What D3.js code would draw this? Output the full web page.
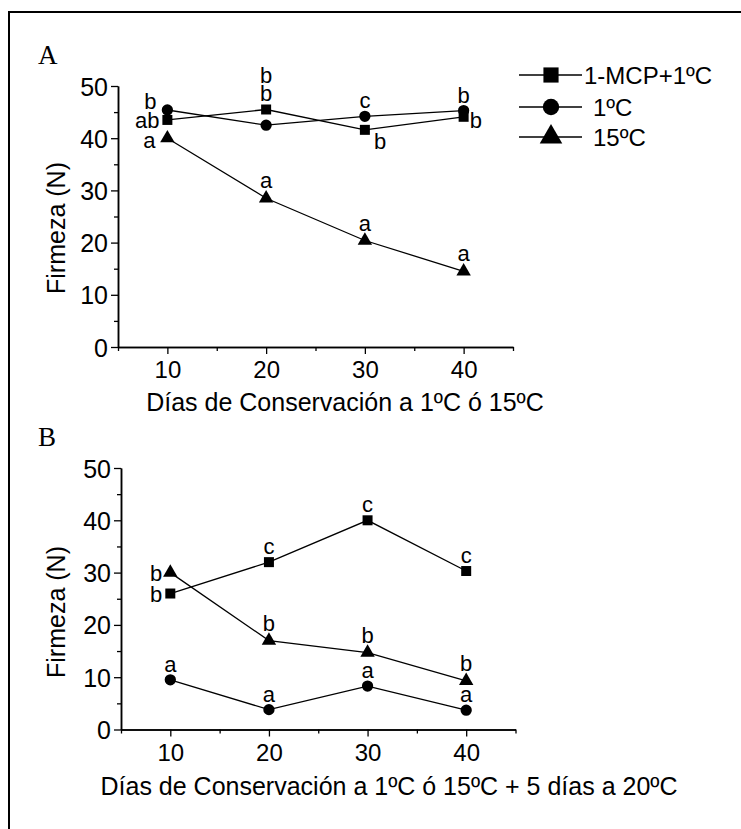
<!DOCTYPE html>
<html>
<head>
<meta charset="utf-8">
<script src="https://cdn.jsdelivr.net/npm/d3@7"></script>
<style>
  html, body { margin: 0; padding: 0; background: #fff; }
  svg { display: block; }
  text { fill: #000; }
</style>
</head>
<body>
<svg id="chart" width="741" height="829"></svg>
<script>
// ---------- DATA ----------
const days = [10, 20, 30, 40];
const seriesNames = ["1-MCP+1ºC", "1ºC", "15ºC"];
const symbolsBySeries = ["square", "circle", "triangle"];

// Panel A: Firmeza (N) during storage
const A_mcp = [43.5, 45.5, 41.6, 44.1];
const A_1c = [45.4, 42.5, 44.2, 45.3];
const A_15c = [40.0, 28.5, 20.4, 14.5];
// letters (per series, per day) and their placement
const A_letters_mcp = ["ab", "b", "b", "b"];
const A_pos_mcp = ["left", "above2", "belowright", "right"];
const A_letters_1c = ["b", "b", "c", "b"];
const A_pos_1c = ["leftup", "none", "above", "above"];
const A_letters_15c = ["a", "a", "a", "a"];
const A_pos_15c = ["leftdown", "above", "above", "above"];

// Panel B: after 5 days at 20ºC
const B_mcp = [26.0, 32.0, 40.0, 30.3];
const B_1c = [9.5, 3.8, 8.3, 3.7];
const B_15c = [30.0, 17.0, 14.7, 9.3];
const B_letters_mcp = ["b", "c", "c", "c"];
const B_pos_mcp = ["left", "above", "above", "above"];
const B_letters_1c = ["a", "a", "a", "a"];
const B_pos_1c = ["above", "above", "above", "above"];
const B_letters_15c = ["b", "b", "b", "b"];
const B_pos_15c = ["left", "above", "above", "above"];

const yTicks = [0, 10, 20, 30, 40, 50];
const yMinor = [5, 15, 25, 35, 45];
const xTicks = [10, 20, 30, 40];
const xMinor = [5, 15, 25, 35, 45];

const titleA = "Días de Conservación a 1ºC ó 15ºC";
const titleB = "Días de Conservación a 1ºC ó 15ºC + 5 días a 20ºC";
const yTitle = "Firmeza (N)";

// ---------- DRAW ----------
const SANS = "'Liberation Sans', Arial, sans-serif";
const SERIF = "'Liberation Serif', 'Times New Roman', serif";
const svg = d3.select("#chart");

// outer frame (only top & left visible in the crop)
svg.append("rect").attr("x", 9).attr("y", 12).attr("width", 900).attr("height", 900)
  .attr("fill", "none").attr("stroke", "#000").attr("stroke-width", 2);

const symType = { square: d3.symbolSquare, circle: d3.symbolCircle, triangle: d3.symbolTriangle };
const symSize = { square: 100, circle: 100, triangle: 90 };

function txt(g) {
  return g.append("text").style("font-family", SANS).attr("fill", "#000");
}

function drawPanel(cfg) {
  const x = d3.scaleLinear().domain([5, 45]).range(cfg.xr);
  const y = d3.scaleLinear().domain([0, 50]).range(cfg.yr);
  const g = svg.append("g");

  // axes
  const xAxis = g.append("g").attr("transform", `translate(0,${cfg.yr[0]})`)
    .call(d3.axisBottom(x).tickValues(xTicks).tickSize(7).tickSizeOuter(0).tickPadding(6));
  g.append("g").attr("transform", `translate(0,${cfg.yr[0]})`)
    .call(d3.axisBottom(x).tickValues(xMinor).tickSize(4).tickSizeOuter(0).tickFormat(""));
  const yAxis = g.append("g").attr("transform", `translate(${cfg.xr[0]},0)`)
    .call(d3.axisLeft(y).tickValues(yTicks).tickSize(7).tickSizeOuter(0).tickPadding(3));
  g.append("g").attr("transform", `translate(${cfg.xr[0]},0)`)
    .call(d3.axisLeft(y).tickValues(yMinor).tickSize(4).tickSizeOuter(0).tickFormat(""));

  g.selectAll(".domain").attr("stroke", "#000").attr("stroke-width", 1.5);
  g.selectAll(".tick line").attr("stroke", "#000").attr("stroke-width", 1.3);
  xAxis.selectAll(".tick text").attr("font-size", 24).style("font-family", SANS)
    .attr("dy", "0.75em").attr("fill", "#000");
  yAxis.selectAll(".tick text").attr("font-size", 25).style("font-family", SANS)
    .attr("dy", "0.36em").attr("fill", "#000");

  // titles
  txt(g).attr("x", cfg.xTitleX).attr("y", cfg.xTitleY).attr("text-anchor", "middle")
    .attr("font-size", 25).text(cfg.xTitle);
  txt(g).attr("transform", `translate(${cfg.yTitleX},${cfg.yTitleY}) rotate(-90)`)
    .attr("text-anchor", "middle").attr("font-size", 25).text(yTitle);
  g.append("text").attr("x", 38).attr("y", cfg.panelY).attr("fill", "#000")
    .style("font-family", SERIF).attr("font-size", 27).text(cfg.panel);

  // series
  const line = d3.line().x((d, i) => x(days[i])).y(d => y(d));
  cfg.series.forEach((s) => {
    g.append("path").datum(s.values).attr("d", line)
      .attr("fill", "none").attr("stroke", "#000").attr("stroke-width", 1.3);
  });
  cfg.series.forEach((s, si) => {
    const sym = symbolsBySeries[si];
    g.selectAll(null).data(s.values).enter().append("path")
      .attr("transform", (d, i) => `translate(${x(days[i])},${y(d)})`)
      .attr("d", d3.symbol().type(symType[sym]).size(symSize[sym]))
      .attr("fill", "#000");
    // letters
    s.values.forEach((v, i) => {
      const p = s.pos[i];
      if (p === "none") return;
      const px = x(days[i]), py = y(v);
      let tx = px, ty = py - 8, anchor = "middle";
      if (p === "above2") { ty = py - 8; }
      if (p === "left") { tx = px - 8; ty = py + 8; anchor = "end"; }
      if (p === "leftup") { tx = px - 11; ty = py - 1; anchor = "end"; }
      if (p === "leftdown") { tx = px - 12; ty = py + 10; anchor = "end"; }
      if (p === "right") { tx = px + 6; ty = py + 11; anchor = "start"; }
      if (p === "belowright") { tx = px + 9; ty = py + 19; anchor = "start"; }
      if (p === "above" && sym === "triangle") { ty = py - 10; }
      txt(g).attr("x", tx).attr("y", ty).attr("text-anchor", anchor)
        .attr("font-size", 22).text(s.letters[i]);
      if (p === "above2") {
        txt(g).attr("x", tx).attr("y", ty - 18).attr("text-anchor", anchor)
          .attr("font-size", 22).text(s.extra);
      }
    });
  });
}

drawPanel({
  panel: "A", panelY: 64,
  xr: [118, 513], yr: [347, 86],
  xTitle: titleA, xTitleX: 345, xTitleY: 411,
  yTitleX: 65, yTitleY: 228,
  series: [
    { values: A_mcp, letters: A_letters_mcp, pos: A_pos_mcp, extra: A_letters_1c[1] },
    { values: A_1c, letters: A_letters_1c, pos: A_pos_1c },
    { values: A_15c, letters: A_letters_15c, pos: A_pos_15c }
  ]
});

drawPanel({
  panel: "B", panelY: 446,
  xr: [121, 515.5], yr: [729.5, 468],
  xTitle: titleB, xTitleX: 389, xTitleY: 795,
  yTitleX: 65, yTitleY: 612,
  series: [
    { values: B_mcp, letters: B_letters_mcp, pos: B_pos_mcp },
    { values: B_1c, letters: B_letters_1c, pos: B_pos_1c },
    { values: B_15c, letters: B_letters_15c, pos: B_pos_15c }
  ]
});

// legend
const lg = svg.append("g");
const legRows = [75, 107, 137];
const legTextX = [584, 593, 593];
const legBig = { square: 230, circle: 210, triangle: 220 };
seriesNames.forEach((name, i) => {
  const yy = legRows[i];
  lg.append("line").attr("x1", 519).attr("x2", 582).attr("y1", yy).attr("y2", yy)
    .attr("stroke", "#000").attr("stroke-width", 1.3);
  lg.append("path").attr("transform", `translate(551,${yy})`)
    .attr("d", d3.symbol().type(symType[symbolsBySeries[i]]).size(legBig[symbolsBySeries[i]]))
    .attr("fill", "#000");
  txt(lg).attr("x", legTextX[i]).attr("y", yy + 8.5).attr("font-size", 24).text(name);
});
</script>
</body>
</html>
